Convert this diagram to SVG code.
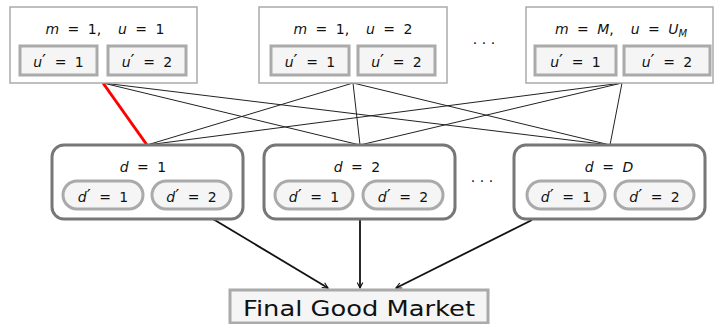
<svg xmlns="http://www.w3.org/2000/svg" width="716" height="324" viewBox="0 0 716 324">
<defs>
<style>
.outer{fill:#fff;stroke:#aaa;stroke-width:1.5}
.inner{fill:#f5f5f5;stroke:#aaa;stroke-width:3}
.dbox{fill:#fff;stroke:#777;stroke-width:3}
.dinner{fill:#f5f5f5;stroke:#aaa;stroke-width:3}
.t{font-family:"DejaVu Sans",sans-serif;font-size:14px;fill:#111;text-anchor:middle;word-spacing:4px}
.i{font-style:italic}
.p{font-size:18px}
.link{stroke:#222;stroke-width:1;fill:none}
.arr{stroke:#111;stroke-width:1.8;fill:none;marker-end:url(#ah)}
.dots{font-family:"DejaVu Sans",sans-serif;font-size:14px;fill:#111;text-anchor:middle}
</style>
<marker id="ah" viewBox="0 0 10 10" refX="9" refY="5" markerWidth="7" markerHeight="7" orient="auto" markerUnits="userSpaceOnUse">
<path d="M1,1 L9,5 L1,9" fill="none" stroke="#111" stroke-width="1.6"/>
</marker>
</defs>

<g id="connectors">
<line class="link" x1="103" y1="83" x2="360" y2="145"/>
<line class="link" x1="103" y1="83" x2="610" y2="145"/>
<line class="link" x1="353" y1="83" x2="147" y2="145"/>
<line class="link" x1="353" y1="83" x2="360" y2="145"/>
<line class="link" x1="353" y1="83" x2="610" y2="145"/>
<line class="link" x1="622" y1="83" x2="147" y2="145"/>
<line class="link" x1="622" y1="83" x2="360" y2="145"/>
<line class="link" x1="622" y1="83" x2="610" y2="145"/>
<line x1="103" y1="83" x2="147" y2="145" stroke="#f00" stroke-width="3"/>
<line class="arr" x1="213" y1="219" x2="328" y2="288"/>
<line class="arr" x1="360" y1="219" x2="360" y2="288"/>
<line class="arr" x1="532" y1="220" x2="396" y2="288"/>
</g>

<g id="m1u1">
<rect class="outer" x="10" y="7" width="187" height="76"/>
<text class="t" x="105" y="34"><tspan class="i">m</tspan> = 1,&#160; <tspan class="i">u</tspan> = 1</text>
<rect class="inner" x="20" y="46" width="77" height="29"/>
<text class="t" x="58.5" y="67"><tspan class="i">u</tspan><tspan class="p">′</tspan> = 1</text>
<rect class="inner" x="108" y="46" width="78" height="29"/>
<text class="t" x="147" y="67"><tspan class="i">u</tspan><tspan class="p">′</tspan> = 2</text>
</g>

<g id="m1u2">
<rect class="outer" x="259" y="7" width="188" height="76"/>
<text class="t" x="353" y="34"><tspan class="i">m</tspan> = 1,&#160; <tspan class="i">u</tspan> = 2</text>
<rect class="inner" x="271" y="46" width="78" height="29"/>
<text class="t" x="310" y="67"><tspan class="i">u</tspan><tspan class="p">′</tspan> = 1</text>
<rect class="inner" x="358" y="46" width="77" height="29"/>
<text class="t" x="396.5" y="67"><tspan class="i">u</tspan><tspan class="p">′</tspan> = 2</text>
</g>

<text class="dots" x="484" y="48">· · ·</text>

<g id="mMuUM">
<rect class="outer" x="526" y="7" width="187" height="76"/>
<text class="t" x="621" y="34"><tspan class="i">m</tspan> = <tspan class="i">M</tspan>,&#160; <tspan class="i">u</tspan> = <tspan class="i">U</tspan><tspan class="i" font-size="10" dy="3">M</tspan></text>
<rect class="inner" x="535" y="46" width="81" height="29"/>
<text class="t" x="575.5" y="67"><tspan class="i">u</tspan><tspan class="p">′</tspan> = 1</text>
<rect class="inner" x="624" y="46" width="86" height="29"/>
<text class="t" x="667" y="67"><tspan class="i">u</tspan><tspan class="p">′</tspan> = 2</text>
</g>

<g id="d1">
<rect class="dbox" x="52" y="145" width="191" height="74" rx="12"/>
<text class="t" x="143" y="172"><tspan class="i">d</tspan> = 1</text>
<rect class="dinner" x="63" y="181" width="80" height="28" rx="14"/>
<text class="t" x="103" y="202"><tspan class="i">d</tspan><tspan class="p">′</tspan> = 1</text>
<rect class="dinner" x="152" y="181" width="79" height="28" rx="14"/>
<text class="t" x="191.5" y="202"><tspan class="i">d</tspan><tspan class="p">′</tspan> = 2</text>
</g>

<g id="d2">
<rect class="dbox" x="264" y="145" width="191" height="74" rx="12"/>
<text class="t" x="357" y="172"><tspan class="i">d</tspan> = 2</text>
<rect class="dinner" x="275" y="181" width="78" height="28" rx="14"/>
<text class="t" x="314" y="202"><tspan class="i">d</tspan><tspan class="p">′</tspan> = 1</text>
<rect class="dinner" x="363" y="181" width="80" height="28" rx="14"/>
<text class="t" x="403" y="202"><tspan class="i">d</tspan><tspan class="p">′</tspan> = 2</text>
</g>

<text class="dots" x="482" y="186">· · ·</text>

<g id="dD">
<rect class="dbox" x="514" y="145" width="191" height="74" rx="12"/>
<text class="t" x="609" y="172"><tspan class="i">d</tspan> = <tspan class="i">D</tspan></text>
<rect class="dinner" x="527" y="181" width="78" height="28" rx="14"/>
<text class="t" x="566" y="202"><tspan class="i">d</tspan><tspan class="p">′</tspan> = 1</text>
<rect class="dinner" x="615" y="181" width="79" height="28" rx="14"/>
<text class="t" x="654.5" y="202"><tspan class="i">d</tspan><tspan class="p">′</tspan> = 2</text>
</g>

<g id="final">
<rect class="inner" x="230" y="290" width="258" height="33"/>
<text x="359" y="316" font-family="DejaVu Sans, sans-serif" font-size="22" fill="#111" text-anchor="middle" textLength="232" lengthAdjust="spacingAndGlyphs">Final Good Market</text>
</g>
</svg>
